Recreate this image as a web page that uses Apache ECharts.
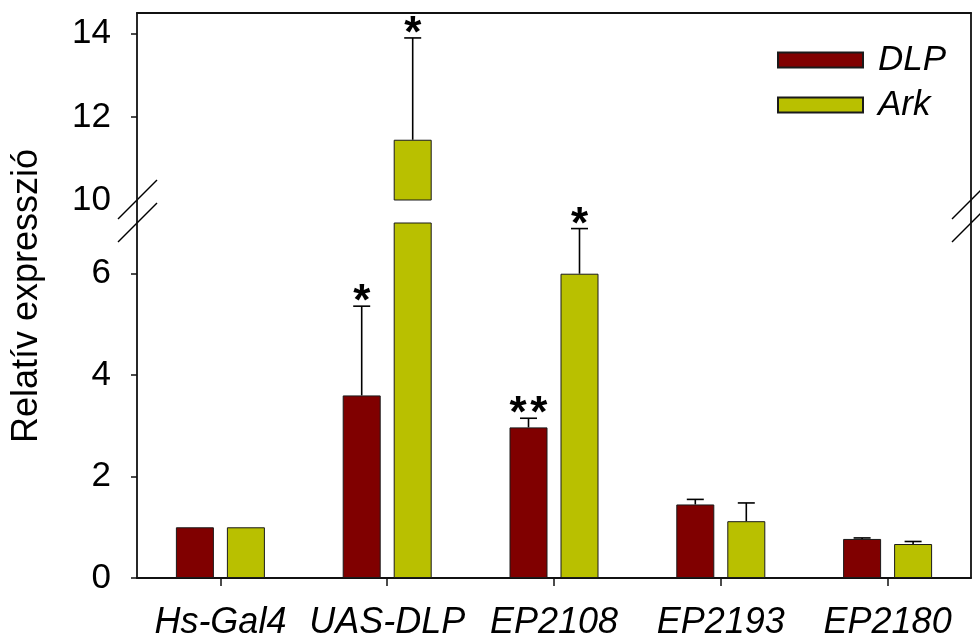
<!DOCTYPE html>
<html>
<head>
<meta charset="utf-8">
<script src="https://cdn.jsdelivr.net/npm/echarts@6/dist/echarts.min.js"></script>
<style>
  html, body { margin: 0; padding: 0; background: #fff; }
  #chart { width: 980px; height: 641px; }
</style>
</head>
<body>
<div id="chart"></div>
<script>
// Relative expression of DLP and Ark in each fly line (mean + upper SE)
const categories = ['Hs-Gal4', 'UAS-DLP', 'EP2108', 'EP2193', 'EP2180'];
const dlpMean = [1.0, 3.6, 2.97, 1.45, 0.77];
const dlpErr  = [0, 1.76, 0.18, 0.10, 0.02];
const arkMean = [1.0, 11.45, 6.0, 1.12, 0.67];
const arkErr  = [0, 2.45, 0.89, 0.36, 0.05];
const dlpSig  = ['', '*', '**', '', ''];
const arkSig  = ['', '*', '*', '', ''];

// Broken value axis: a lower and an upper segment
const lowerRange = [0, 7];
const upperRange = [10, 14.5];
const lowerTicks = [0, 2, 4, 6];
const upperTicks = [10, 12, 14];

const FONT = 'Liberation Sans, Arial, sans-serif';
const AXIS_COLOR = '#111';
const DLP_COLOR = '#800000';
const ARK_COLOR = '#b9c000';
const BAR_W = 38;
const BAR_GAP = 13;

// plot frame
const W = 980, H = 641;
const PLOT_L = 137, PLOT_R = 971;
const TOP_Y = 13, UPPER_BOTTOM = 200, LOWER_TOP = 223, BOTTOM_Y = 579;

const chart = echarts.init(document.getElementById('chart'), null, { renderer: 'canvas' });

// error-bar items, split between the two axis segments
function errItems(means, errs, sigs, which) {
  return means.map((m, i) => ({ value: [i, m, m + errs[i], which], sig: sigs[i] }));
}
const allErr = errItems(dlpMean, dlpErr, dlpSig, 0).concat(errItems(arkMean, arkErr, arkSig, 1));
const lowerErr = allErr.filter(d => d.value[1] <= lowerRange[1]);
const upperErr = allErr.filter(d => d.value[1] > lowerRange[1]);

function makeRender(items) {
  return function (params, api) {
    const item = items[params.dataIndex];
    const [ci, mean, top, which] = item.value;
    const off = (which === 0 ? -1 : 1) * (BAR_W + BAR_GAP) / 2;
    const base = api.coord([ci, mean]);
    const tip = api.coord([ci, top]);
    const x = base[0] + off;
    const children = [];
    const ls = { stroke: '#000', lineWidth: 1.6 };
    if (top > mean) {
      children.push({ type: 'line', shape: { x1: x, y1: base[1], x2: x, y2: tip[1] }, style: ls });
      children.push({ type: 'line', shape: { x1: x - 8.5, y1: tip[1], x2: x + 8.5, y2: tip[1] }, style: ls });
    }
    if (item.sig) {
      children.push({
        type: 'text', x: x, y: tip[1] - 3,
        style: { text: item.sig.split('').join('\u200A'), fontSize: 44, fontWeight: 'bold', fontFamily: FONT,
                 fill: '#000', align: 'center', verticalAlign: 'middle' }
      });
    }
    return { type: 'group', children: children };
  };
}

const hiddenAxisParts = {
  axisTick: { show: false }, axisLabel: { show: false }, splitLine: { show: false }
};
const axisLine = { show: true, lineStyle: { color: AXIS_COLOR, width: 1.8 } };

const barStyle = c => ({ color: c, borderColor: '#1a1a1a', borderWidth: 1 });

const option = {
  animation: false,
  backgroundColor: '#fff',
  grid: [
    { left: PLOT_L, right: W - PLOT_R, top: TOP_Y, height: UPPER_BOTTOM - TOP_Y },
    { left: PLOT_L, right: W - PLOT_R, top: LOWER_TOP, height: BOTTOM_Y - LOWER_TOP }
  ],
  xAxis: [
    Object.assign({ type: 'category', data: categories, gridIndex: 0, position: 'top',
                    axisLine: axisLine }, hiddenAxisParts),
    { type: 'category', data: categories, gridIndex: 1, position: 'bottom',
      axisLine: axisLine,
      axisTick: { show: true, length: 8, alignWithLabel: true, lineStyle: { color: AXIS_COLOR, width: 1.5 } },
      axisLabel: { fontSize: 36, fontStyle: 'italic', fontFamily: FONT, color: '#000', margin: 27, interval: 0 },
      splitLine: { show: false } }
  ],
  yAxis: [
    { type: 'value', gridIndex: 0, min: upperRange[0], max: upperRange[1], position: 'left',
      axisLine: axisLine,
      axisTick: { show: true, length: 6, inside: false, customValues: upperTicks.slice(1),
                  lineStyle: { color: AXIS_COLOR, width: 1.5 } },
      axisLabel: { fontSize: 35, fontFamily: FONT, color: '#000', margin: 26, customValues: upperTicks },
      splitLine: { show: false } },
    Object.assign({ type: 'value', gridIndex: 0, min: upperRange[0], max: upperRange[1], position: 'right',
                    axisLine: axisLine }, hiddenAxisParts),
    { type: 'value', gridIndex: 1, min: lowerRange[0], max: lowerRange[1], position: 'left',
      axisLine: axisLine,
      axisTick: { show: true, length: 6, inside: false, customValues: lowerTicks,
                  lineStyle: { color: AXIS_COLOR, width: 1.5 } },
      axisLabel: { fontSize: 35, fontFamily: FONT, color: '#000', margin: 26, customValues: lowerTicks },
      splitLine: { show: false } },
    Object.assign({ type: 'value', gridIndex: 1, min: lowerRange[0], max: lowerRange[1], position: 'right',
                    axisLine: axisLine }, hiddenAxisParts)
  ],
  legend: {
    data: ['DLP', 'Ark'],
    orient: 'vertical', left: 772, top: 35,
    itemWidth: 85, itemHeight: 15, itemGap: 5, icon: 'rect',
    selectedMode: false,
    textStyle: { fontSize: 35, fontStyle: 'italic', fontFamily: FONT, color: '#000',
                 lineHeight: 40, padding: [0, 0, 0, 10] }
  },
  series: [
    { name: 'DLP', type: 'bar', xAxisIndex: 1, yAxisIndex: 2, data: dlpMean,
      barWidth: BAR_W, barGap: (BAR_GAP / BAR_W * 100) + '%', clip: true, itemStyle: barStyle(DLP_COLOR) },
    { name: 'Ark', type: 'bar', xAxisIndex: 1, yAxisIndex: 2, data: arkMean,
      barWidth: BAR_W, clip: true, itemStyle: barStyle(ARK_COLOR) },
    { name: 'DLP', type: 'bar', xAxisIndex: 0, yAxisIndex: 0,
      data: dlpMean.map(v => v > lowerRange[1] ? v : null),
      barWidth: BAR_W, barGap: (BAR_GAP / BAR_W * 100) + '%', clip: true, itemStyle: barStyle(DLP_COLOR) },
    { name: 'Ark', type: 'bar', xAxisIndex: 0, yAxisIndex: 0,
      data: arkMean.map(v => v > lowerRange[1] ? v : null),
      barWidth: BAR_W, clip: true, itemStyle: barStyle(ARK_COLOR) },
    { type: 'custom', xAxisIndex: 1, yAxisIndex: 2, z: 5, renderItem: makeRender(lowerErr),
      data: lowerErr.map(d => d.value), encode: { x: 0, y: [1, 2] } },
    { type: 'custom', xAxisIndex: 0, yAxisIndex: 0, z: 5, renderItem: makeRender(upperErr),
      data: upperErr.map(d => d.value), encode: { x: 0, y: [1, 2] } }
  ],
  graphic: []
};

// axis-break marks and the axis line across the gap
function breakMarks(x) {
  const s = { stroke: '#000', lineWidth: 1.5 };
  return [
    { type: 'line', shape: { x1: x, y1: UPPER_BOTTOM, x2: x, y2: LOWER_TOP }, style: { stroke: AXIS_COLOR, lineWidth: 1.8 } },
    { type: 'line', shape: { x1: x - 19, y1: UPPER_BOTTOM + 19, x2: x + 20, y2: UPPER_BOTTOM - 20 }, style: s },
    { type: 'line', shape: { x1: x - 19, y1: LOWER_TOP + 19, x2: x + 20, y2: LOWER_TOP - 20 }, style: s }
  ];
}
option.graphic = breakMarks(PLOT_L).concat(breakMarks(PLOT_R)).concat([
  { type: 'text', x: 27, y: (TOP_Y + BOTTOM_Y) / 2, rotation: Math.PI / 2,
    style: { text: 'Relatív expresszió', fontSize: 36, fontFamily: FONT, fill: '#000',
             align: 'center', verticalAlign: 'middle' } }
]);

chart.setOption(option);
</script>
</body>
</html>
